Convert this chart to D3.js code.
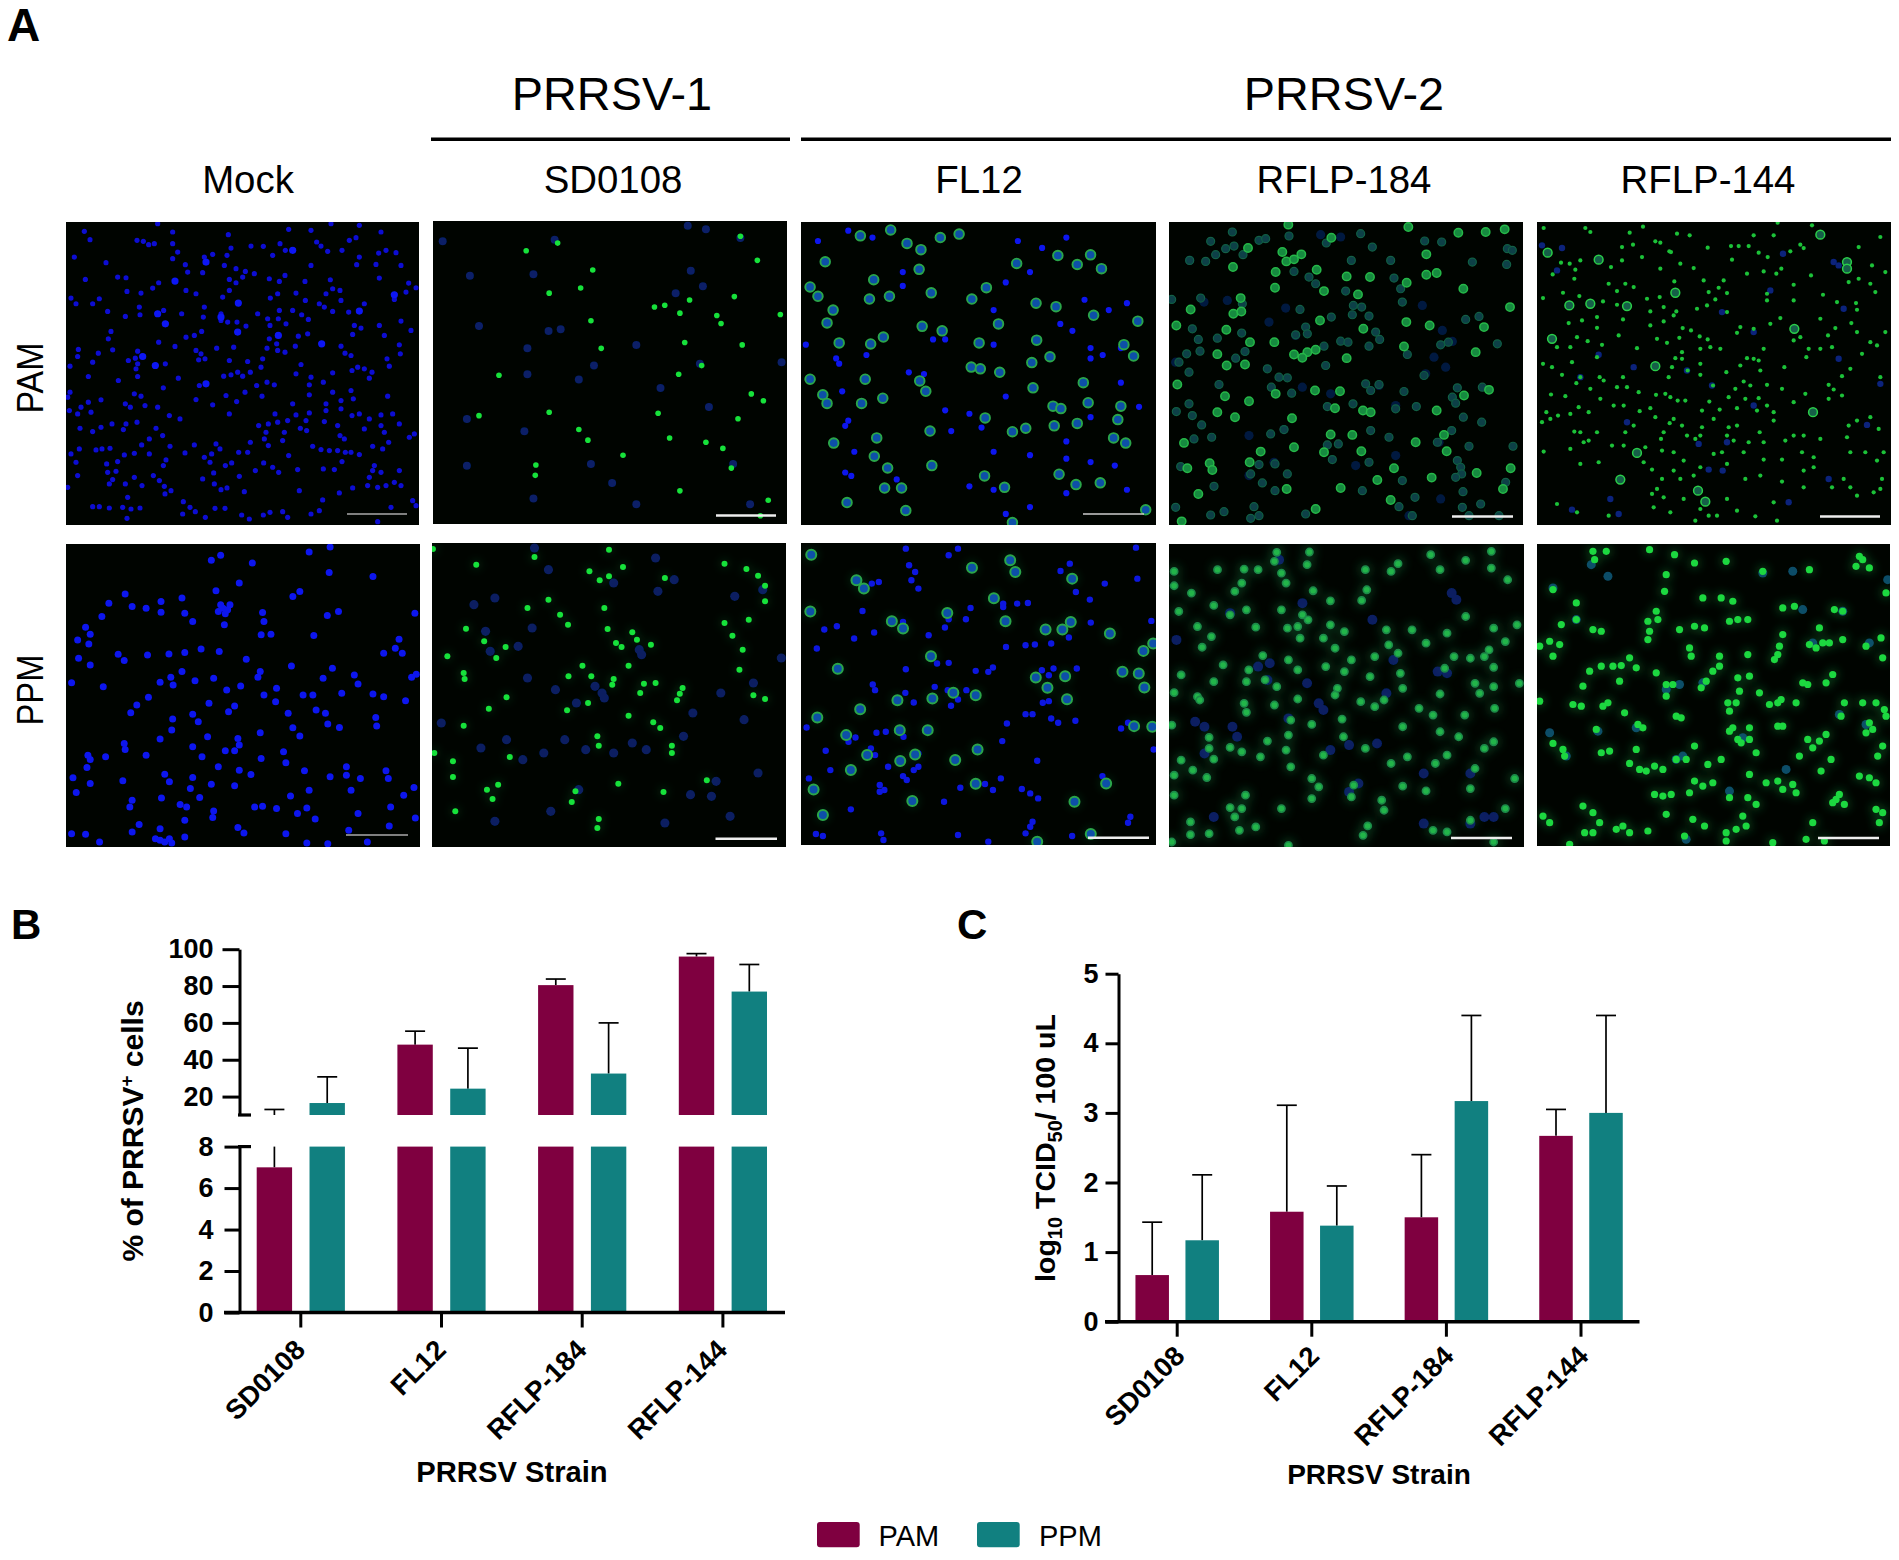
<!DOCTYPE html>
<html><head><meta charset="utf-8">
<script src="https://cdn.jsdelivr.net/npm/d3@7"></script>
<style>
html,body{margin:0;padding:0;background:#fff}
svg{display:block}
text{font-family:"Liberation Sans",Arial,sans-serif;fill:#000}
.b{font-weight:700}
.axis text{font-weight:700;font-size:27px;font-family:"Liberation Sans",Arial,sans-serif}
.axis path,.axis line{stroke:#000;stroke-width:3px}
</style></head><body>
<svg id="c" width="1899" height="1560" viewBox="0 0 1899 1560"></svg>
<script>
// ---------- chart data ----------
const strains=["SD0108","FL12","RFLP-184","RFLP-144"];
const seriesNames=["PAM","PPM"];
const pctPAM=[7,48.2,80.5,96];
const pctPAMTop=[13,55.5,83.8,97.6];
const pctPPM=[16.5,24.3,32.5,77];
const pctPPMTop=[30.7,46.3,60,91.7];
const tcidPAM=[0.67,1.58,1.5,2.67];
const tcidPAMTop=[1.43,3.11,2.4,3.05];
const tcidPPM=[1.17,1.38,3.17,3.0];
const tcidPPMTop=[2.11,1.95,4.4,4.4];
const pctTicksUpper=[20,40,60,80,100];
const pctTicksLower=[0,2,4,6,8];
const tcidTicks=[0,1,2,3,4,5];
const colPAM="#7f0040", colPPM="#118080";

// ---------- micrograph cells (crop reading units) ----------
const mockPPMBlue=[[140,163],[350,205],[335,153],[345,47],[325,62],[413,70],[535,37],[580,22],[672,110],[578,98],[500,170],[515,155],[385,130],[262,175],[217,185],[217,217],[155,200],[185,205],[105,190],[90,230],[55,262],[65,283],[38,300],[62,312],[268,220],[285,245],[353,255],[435,218],[438,245],[574,227],[598,215],[545,287],[432,285],[453,283],[762,220],[728,298],[720,325],[695,340],[735,340],[188,345],[138,362],[125,343],[303,327],[342,335],[268,338],[234,342],[400,358],[65,375],[40,355],[585,385],[565,415],[640,432],[632,405],[765,403],[755,412],[262,395],[238,412],[290,422],[330,415],[430,395],[425,412],[497,378],[215,427],[243,435],[93,440],[25,428],[465,445],[388,438],[358,450],[438,465],[463,485],[522,465],[543,465],[605,460],[672,462],[695,470],[742,482],[190,472],[165,495],[152,518],[375,498],[362,515],[320,490],[285,523],[297,545],[242,537],[490,520],[550,510],[570,520],[678,532],[680,558],[575,552],[600,562],[515,588],[500,563],[430,578],[240,570],[215,597],[317,590],[382,595],[385,615],[138,610],[140,628],[285,620],[355,632],[375,632],[60,645],[65,658],[98,650],[185,645],[305,650],[432,655],[480,635],[485,668],[525,692],[615,680],[615,705],[645,715],[385,690],[410,703],[340,680],[58,682],[225,702],[235,725],[28,713],[65,730],[135,722],[285,712],[325,732],[375,737],[535,750],[625,750],[760,742],[738,765],[580,710],[700,692],[705,715],[35,757],[280,745],[218,773],[155,780],[150,800],[258,793],[272,800],[300,772],[330,812],[328,832],[418,800],[435,798],[465,805],[530,803],[510,820],[495,767],[548,836],[170,853],[268,840],[382,862],[707,857],[763,833],[640,820],[710,800],[215,865],[225,905],[205,895],[240,908],[268,890],[155,875],[395,878],[485,880],[25,880],[55,882],[85,905],[530,908],[575,910],[620,870],[660,905],[345,195],[360,210],[340,215],[365,195],[355,222],[215,900],[235,895]];
const sdPPMGreen=[[802,28],[895,75],[1020,52],[1180,30],[1138,95],[1160,122],[1210,82],[1300,115],[1180,110],[1170,205],[1075,225],[1092,255],[1177,268],[1230,278],[1195,310],[1207,322],[1270,315],[1240,300],[1123,378],[1222,378],[1190,418],[1187,435],[1142,410],[1255,432],[1280,430],[1247,460],[1338,445],[1332,462],[1326,482],[1135,490],[1090,512],[1222,528],[922,507],[960,473],[868,400],[870,418],[833,350],[873,267],[912,305],[958,322],[938,355],[1093,410],[868,558],[1155,590],[1158,618],[1275,548],[1290,565],[1315,618],[1315,640],[967,652],[805,640],[845,665],[1428,250],[1480,240],[1515,138],[1515,185],[1460,390],[1490,467],[1515,478],[1467,330],[1445,288],[1428,72],[1500,108],[1475,88],[930,778],[1100,787],[1390,722],[1297,757],[918,750],[850,815],[1158,838],[1005,205],[1050,180],[845,712],[1200,732],[942,735],[1108,755],[1155,865]];
const sdPPMBlue=[[935,175],[1015,265],[915,275],[985,320],[925,335],[1005,415],[1065,450],[1165,460],[1170,475],[1150,440],[1110,490],[1245,330],[1250,345],[1320,120],[1190,130],[1285,155],[1450,170],[1510,150],[1420,460],[1490,430],[820,550],[905,625],[1040,640],[995,660],[1130,630],[1190,640],[1355,765],[1410,725],[1115,750],[1360,520],[1500,700],[890,195],[1020,25],[1050,90],[1280,55],[1400,770],[1470,540],[1440,830],[1300,850],[1055,815],[935,845],[960,600],[1085,600],[1260,630],[1340,590],[1550,355],[1230,610]];
const flPPMRing=[[35,43],[132,120],[148,145],[380,82],[462,60],[473,95],[595,115],[427,174],[327,218],[33,214],[208,243],[232,265],[452,243],[538,268],[574,268],[592,245],[676,280],[292,348],[92,386],[748,332],[769,310],[580,408],[517,412],[703,395],[738,400],[750,442],[542,443],[584,477],[388,465],[295,475],[220,480],[140,507],[48,532],[340,458],[728,558],[767,560],[225,570],[110,585],[285,570],[392,628],[155,645],[258,643],[226,663],[344,660],[120,690],[388,731],[668,730],[40,748],[252,783],[600,785],[60,825],[635,882],[520,905]];
const flPPMBlue=[[238,25],[330,45],[350,25],[732,22],[258,95],[250,120],[180,125],[165,130],[265,145],[245,75],[570,92],[590,70],[665,130],[603,155],[735,115],[633,178],[500,188],[477,190],[447,190],[447,200],[377,203],[145,212],[330,237],[367,237],[232,245],[322,262],[287,285],[765,242],[635,247],[90,258],[63,268],[127,295],[170,277],[588,292],[550,310],[515,313],[495,315],[453,320],[47,325],[305,370],[330,368],[238,387],[425,382],[415,395],[388,392],[605,385],[555,385],[530,390],[545,405],[167,433],[172,450],[300,440],[328,450],[368,450],[237,458],[255,487],[350,478],[335,497],[532,488],[545,483],[25,562],[495,522],[510,522],[550,535],[565,548],[602,542],[455,550],[700,565],[715,548],[175,578],[195,575],[233,590],[130,592],[115,605],[445,603],[66,632],[163,625],[172,645],[265,640],[265,680],[200,680],[255,690],[232,708],[240,720],[76,690],[30,715],[442,715],[182,735],[192,750],[182,755],[355,743],[408,732],[425,750],[487,747],[505,760],[522,775],[660,708],[520,662],[770,628],[120,808],[320,785],[720,830],[715,848],[350,885],[185,880],[190,900],[45,882],[60,888],[505,860],[510,845],[495,880],[595,888],[415,905]];
const r184PPMGreen=[[908,90],[965,88],[995,90],[1035,38],[1030,65],[1045,100],[1055,130],[1105,37],[1100,75],[1113,153],[1150,183],[1228,150],[1217,182],[1295,72],[1225,90],[1280,95],[1385,90],[1440,62],[1365,45],[1495,35],[1495,85],[1530,120],[815,95],[815,138],[852,160],[900,197],[825,215],[865,260],[875,322],[895,290],[1005,347],[990,262],[1045,210],[1090,225],[1102,240],[1080,260],[1085,295],[1058,265],[960,130],[945,155],[970,210],[935,225],[1150,255],[1180,275],[1270,270],[1325,270],[1355,310],[1400,280],[1440,230],[1500,265],[1550,255],[1525,305],[1490,330],[1135,295],[1160,325],[1195,360],[1245,350],[1275,315],[1295,340],[1300,400],[1415,350],[1395,385],[1450,355],[1500,382],[1480,350],[920,375],[975,390],[830,405],[900,425],[970,425],[1010,420],[1035,440],[1060,360],[1080,390],[1140,380],[1180,395],[1235,410],[865,470],[870,480],[815,458],[965,490],[970,517],[1030,495],[1080,477],[1165,445],[1160,465],[1215,485],[1245,500],[1265,480],[1305,445],[1385,462],[1460,430],[1500,440],[1470,460],[1555,430],[1502,505],[1438,525],[1370,525],[1340,505],[1065,540],[1110,553],[1175,537],[1060,585],[890,592],[810,555],[1178,590],[1015,603],[960,635],[935,622],[890,625],[900,657],[830,660],[1000,650],[1055,630],[1135,645],[1225,625],[1065,680],[1280,670],[1375,670],[1315,650],[1400,645],[1305,560],[1385,575],[1425,590],[1480,625],[1500,605],[815,705],[885,712],[855,690],[1110,715],[1125,740],[1200,735],[1195,770],[1305,738],[1355,752],[1260,780],[1450,745],[1545,715],[1460,685],[968,765],[815,765],[1110,775],[1045,805],[960,805],[935,802],[990,860],[945,830],[850,845],[890,880],[850,883],[955,870],[1230,857],[1265,810],[1525,805],[1450,840],[1370,870],[1400,875],[1500,905],[1060,915],[810,905],[1220,885]];
const r184PPMBlue=[[1040,60],[1410,160],[1420,180],[820,300],[935,220],[995,380],[1020,370],[1015,420],[1125,490],[1135,510],[860,545],[880,560],[940,560],[950,590],[1190,755],[1210,730],[1060,535],[1285,360],[1270,460],[1400,400],[1380,395],[1190,615],[1250,610],[880,640],[1450,700],[1350,850],[1480,830],[1500,830],[900,830],[1100,430],[1090,190],[1240,240],[1450,850],[1150,630],[1350,700]];
const r144PPMGreen=[[190,35],[230,35],[195,60],[360,30],[495,70],[435,45],[590,65],[700,95],[840,90],[990,50],[1020,85],[980,80],[1000,60],[70,150],[410,105],[405,155],[380,215],[355,245],[360,275],[355,300],[385,240],[575,175],[610,185],[520,175],[655,240],[760,205],[795,200],[915,210],[940,215],[870,265],[840,315],[860,325],[880,310],[900,310],[940,300],[760,285],[750,320],[1010,320],[1055,295],[1060,355],[1070,160],[30,320],[60,305],[90,315],[70,350],[95,255],[140,190],[140,240],[190,270],[215,275],[450,270],[495,260],[525,265],[600,245],[625,240],[480,325],[485,350],[300,355],[275,378],[250,380],[215,380],[320,385],[180,395],[570,350],[550,395],[530,425],[570,380],[515,445],[410,435],[430,435],[410,470],[380,400],[655,345],[660,410],[625,415],[745,345],[735,360],[820,430],[835,435],[890,430],[910,405],[270,425],[160,440],[130,495],[155,500],[235,490],[220,500],[595,490],[620,490],[600,515],[630,455],[690,460],[745,490],[720,495],[755,480],[800,490],[945,490],[935,530],[1000,490],[1040,490],[1065,510],[1070,530],[1020,550],[1010,580],[1030,570],[325,555],[340,565],[200,570],[285,520],[455,535],[440,530],[610,565],[600,575],[625,600],[660,565],[660,600],[680,640],[635,610],[745,560],[760,560],[835,600],[870,605],[850,625],[890,585],[100,630],[105,650],[70,612],[215,640],[240,635],[320,630],[300,672],[350,695],[330,690],[375,680],[400,690],[495,620],[440,660],[470,660],[535,675],[575,660],[810,650],[875,695],[905,660],[1060,620],[1045,650],[30,485],[495,725],[480,760],[520,740],[550,730],[660,705],[710,730],[745,725],[790,735],[800,760],[760,750],[1020,715],[1040,730],[990,710],[930,765],[920,780],[945,795],[910,790],[1040,810],[1060,820],[1050,850],[40,830],[60,850],[425,765],[375,765],[400,770],[600,775],[655,775],[680,795],[160,800],[190,820],[165,880],[190,880],[210,850],[280,860],[260,870],[300,880],[355,875],[410,825],[490,840],[525,860],[640,830],[650,860],[620,870],[590,880],[590,905],[730,910],[830,900],[850,850],[885,905],[465,890],[120,915]];
const r144PPMBlue=[[70,145],[140,240],[185,75],[235,110],[410,450],[450,435],[520,430],[640,595],[440,660],[460,650],[205,575],[320,565],[770,690],[600,755],[940,215],[1010,555],[1020,310],[850,310],[930,525],[60,580],[110,650],[470,900],[700,100],[790,95],[820,210],[1075,120]];
const mockPAMBlue=[[275,5],[320,30],[320,65],[335,90],[320,110],[213,55],[232,58],[248,68],[265,65],[55,28],[72,53],[25,105],[120,122],[58,172],[155,165],[180,167],[183,208],[225,213],[260,198],[278,182],[327,177],[360,205],[390,215],[365,150],[410,152],[358,128],[420,120],[440,97],[415,105],[487,38],[495,78],[483,100],[475,130],[510,140],[538,148],[565,155],[490,172],[510,182],[530,165],[490,205],[470,225],[517,243],[555,72],[592,73],[620,100],[642,65],[680,85],[658,85],[735,130],[717,178],[610,170],[640,178],[657,160],[635,215],[613,228],[690,213],[718,235],[760,245],[775,255],[800,268],[825,235],[822,205],[800,200],[780,215],[793,173],[848,270],[880,267],[895,245],[985,218],[985,232],[1020,210],[1050,197],[1028,183],[872,128],[880,105],[938,93],[960,85],[990,92],[850,55],[870,47],[945,30],[880,10],[795,5],[735,25],[668,22],[752,60],[765,72],[785,88],[828,85],[930,127],[1005,130],[940,168],[30,245],[15,228],[80,245],[100,230],[125,268],[220,255],[222,278],[178,283],[275,275],[293,265],[300,305],[347,275],[415,255],[412,285],[465,275],[465,295],[485,300],[515,330],[540,312],[513,300],[575,275],[605,290],[612,310],[640,265],[637,290],[660,305],[680,265],[707,278],[727,292],[637,340],[610,350],[632,365],[635,385],[657,390],[697,342],[725,335],[688,372],[767,365],[825,372],[837,393],[865,310],[885,318],[860,337],[940,310],[955,340],[1005,297],[1035,325],[1000,368],[135,328],[127,350],[140,383],[37,382],[35,403],[97,393],[80,420],[12,432],[278,360],[360,345],[385,340],[407,328],[327,373],[390,385],[405,395],[398,413],[417,410],[452,378],[503,375],[490,415],[545,418],[590,410],[603,378],[585,435],[215,387],[230,403],[208,408],[187,415],[215,425],[268,430],[298,425],[210,440],[215,463],[157,475],[67,463],[337,468],[292,497],[420,485],[400,490],[473,462],[495,458],[515,450],[530,462],[553,450],[572,490],[603,480],[625,488],[705,427],[690,455],[735,465],[730,488],[772,480],[800,452],[858,445],[875,435],[895,440],[918,450],[910,468],[855,400],[963,410],[970,432],[1003,395],[12,510],[5,525],[205,515],[225,522],[178,545],[193,555],[237,550],[275,555],[45,555],[67,540],[105,533],[35,575],[75,570],[10,565],[390,532],[440,548],[480,520],[512,538],[537,510],[588,522],[680,545],[490,575],[730,518],[800,510],[855,505],[825,535],[780,545],[780,565],[825,560],[862,530],[965,522],[858,580],[880,575],[945,578],[980,575],[310,580],[342,590],[180,605],[172,622],[138,605],[213,600],[105,615],[80,628],[42,618],[270,618],[290,640],[250,650],[227,668],[578,610],[607,605],[627,575],[635,600],[665,595],[690,578],[730,572],[720,595],[655,630],[600,630],[595,650],[703,618],[722,625],[775,598],[815,610],[822,640],[835,650],[910,590],[895,620],[945,610],[955,630],[1000,605],[1045,635],[1030,645],[90,683],[108,680],[132,678],[40,680],[15,695],[175,698],[205,693],[250,695],[312,672],[385,668],[357,692],[450,665],[462,680],[437,695],[415,705],[432,720],[518,690],[545,690],[553,660],[607,670],[650,655],[668,700],[740,672],[765,682],[790,685],[815,685],[838,690],[855,690],[880,697],[920,672],[950,680],[968,660],[30,720],[122,725],[155,718],[300,713],[292,730],[35,760],[125,750],[150,747],[140,772],[130,785],[178,785],[205,765],[228,790],[262,760],[280,775],[295,792],[297,815],[315,805],[478,730],[497,722],[443,752],[410,770],[445,785],[465,802],[483,797],[520,762],[568,745],[593,722],[620,735],[638,750],[695,742],[772,740],[805,742],[828,718],[925,730],[945,750],[920,745],[1000,745],[910,765],[905,790],[935,795],[960,790],[985,780],[1005,790],[860,797],[700,805],[535,808],[820,812],[5,795],[185,825],[80,853],[100,853],[130,857],[170,855],[195,860],[222,857],[183,888],[352,838],[372,855],[388,868],[350,875],[447,858],[477,858],[418,885],[527,878],[550,890],[592,878],[612,870],[650,868],[665,885],[735,875],[760,865],[770,833],[975,855],[1040,835],[1050,850],[935,898]];
const mockPAMBright=[[680,85],[767,365],[420,120],[327,177],[517,243],[465,285],[515,330],[637,340],[230,403],[268,430],[420,485],[880,267],[298,305],[275,275],[985,218]];
const sdPAMGreen=[[868,727],[920,705],[978,783],[958,835],[906,850],[1222,685],[1250,755],[1138,870],[1212,860],[1080,890],[1097,885],[1122,908],[1183,915],[1190,938],[1288,912],[975,930],[1130,993],[992,1010],[1225,1000],[823,1088],[1158,1060],[1120,1085],[1240,1142],[1260,1162],[906,1195],[1086,1198],[790,1205],[1218,1214],[955,1245],[970,1276],[1105,1270],[1165,1282],[1193,1300],[1028,1320],[884,1348],[1207,1357],[1122,1423],[1268,1450],[1255,1495],[883,1378]];
const sdPAMBlue=[[730,700],[915,695],[1135,655],[1165,665],[1222,690],[775,800],[880,795],[1140,785],[1115,850],[1160,830],[790,945],[905,960],[925,955],[870,1010],[1050,1000],[980,1060],[1155,1055],[870,1085],[955,1100],[1090,1125],[770,1215],[865,1250],[770,1350],[975,1345],[1210,1345],[1010,1400],[880,1445],[1050,1462],[1238,1462],[1290,1050],[1170,1180]];
const flPAMRing=[[1337,833],[1350,860],[1420,685],[1470,668],[1497,707],[1520,725],[1552,690],[1362,760],[1442,812],[1435,868],[1468,860],[1517,782],[1537,850],[1375,900],[1365,937],[1522,947],[1385,995],[1437,998],[1458,978],[1555,960],[1337,1100],[1358,1145],[1365,1170],[1422,1170],[1457,1155],[1428,1100],[1518,1105],[1528,1135],[1376,1285],[1447,1270],[1535,1250],[1443,1323],[1465,1357],[1538,1350],[1460,1415],[1488,1415],[1398,1457],[1495,1480],[1583,680],[1746,742],[1800,740],[1778,768],[1818,780],[1678,765],[1628,835],[1604,868],[1710,880],[1743,890],[1805,915],[1878,932],[1648,940],[1616,995],[1711,987],[1855,1000],[1733,1035],[1703,1052],[1871,1033],[1603,1065],[1618,1070],[1650,1080],[1705,1125],[1788,1110],[1738,1178],[1751,1185],[1796,1168],[1850,1178],[1626,1212],[1693,1242],[1671,1252],[1740,1235],[1778,1228],[1845,1217],[1838,1270],[1858,1285],[1625,1380],[1748,1375],[1658,1413],[1776,1405],[1816,1400],[1891,1478],[1671,1515]];
const flPAMBlue=[[1380,1040],[1400,670],[1440,690],[1350,700],[1490,790],[1490,830],[1560,985],[1540,985],[1330,1000],[1385,1055],[1430,1030],[1390,1135],[1400,1220],[1395,1235],[1560,1190],[1570,1250],[1405,1380],[1395,1370],[1480,1390],[1410,1310],[1525,1085],[1500,1080],[1600,1200],[1620,1240],[1640,900],[1660,820],[1700,790],[1720,720],[1760,690],[1680,700],[1850,1010],[1820,1030],[1770,960],[1750,940],[1790,870],[1830,900],[1860,880],[1800,1010],[1800,1040],[1660,1150],[1600,1410],[1640,1310],[1700,1320],[1760,1330],[1800,1340],[1840,1350],[1760,1280],[1800,1210],[1850,1110],[1880,1180],[1640,1420],[1660,1490],[1700,1470],[1760,1430],[1860,1420],[1640,1000]];
const r184PAMBright=[[718,15],[868,32],[358,8],[487,47],[237,78],[340,90],[352,118],[375,112],[397,97],[192,135],[320,150],[443,143],[533,163],[603,165],[772,158],[803,153],[713,182],[318,197],[465,207],[567,217],[883,200],[215,228],[65,262],[193,275],[217,268],[453,295],[22,310],[172,323],[583,320],[782,310],[945,315],[712,300],[243,360],[316,360],[375,397],[415,390],[440,383],[400,407],[533,408],[705,373],[920,390],[145,396],[173,430],[228,427],[25,487],[168,522],[240,537],[320,515],[438,505],[513,507],[885,520],[960,503],[498,558],[582,565],[605,570],[145,570],[198,585],[369,588],[803,565],[550,638],[485,637],[825,638],[45,662],[375,675],[465,690],[577,687],[833,687],[740,660],[275,688],[242,720],[122,723],[130,743],[55,738],[675,738],[923,752],[788,766],[625,773],[515,797],[1002,800],[88,815],[353,800],[665,833],[440,860],[38,897],[1025,738],[1023,255],[772,97],[950,30],[1007,22]];
const r184PAMDim=[[190,30],[125,58],[170,80],[195,72],[270,55],[290,50],[360,42],[472,63],[575,35],[610,75],[767,57],[818,60],[1015,80],[62,115],[110,118],[140,98],[222,98],[547,115],[665,115],[1013,127],[910,120],[375,148],[420,165],[440,185],[675,168],[695,200],[530,207],[95,228],[8,232],[700,240],[553,250],[578,255],[600,282],[550,278],[487,285],[393,262],[220,245],[930,283],[890,292],[1030,85],[70,320],[88,352],[145,348],[218,333],[410,315],[415,335],[380,338],[620,330],[632,352],[515,357],[537,360],[600,372],[815,368],[838,360],[985,365],[53,395],[93,387],[228,388],[200,408],[465,372],[715,397],[60,450],[30,420],[295,440],[330,465],[355,467],[470,430],[590,485],[605,505],[705,508],[630,487],[765,460],[865,497],[940,495],[850,525],[307,495],[368,513],[150,487],[60,545],[22,568],[70,580],[475,553],[552,545],[742,553],[860,543],[883,585],[938,600],[680,560],[98,608],[128,645],[75,650],[305,635],[345,622],[605,625],[660,645],[848,625],[475,668],[508,665],[805,660],[900,672],[490,712],[865,715],[875,735],[1032,672],[318,725],[270,727],[245,755],[35,733],[355,755],[600,720],[878,755],[860,765],[280,782],[318,805],[135,792],[882,808],[738,825],[935,845],[255,853],[270,880],[245,888],[20,855],[410,875],[125,878],[165,868],[580,805],[690,853],[730,880],[880,855],[900,880],[990,880],[1010,780],[700,775]];
const r184PAMBlue=[[62,115],[455,38],[515,45],[350,258],[300,300],[380,340],[820,325],[850,358],[770,455],[830,435],[400,495],[485,515],[680,550],[345,622],[240,640],[810,660],[680,700],[315,720],[240,760],[560,730],[815,830],[720,880],[175,235],[105,240],[20,420],[630,490],[795,405],[760,250]];
const r144PAMGreen=[[20,18],[145,18],[160,30],[278,32],[318,14],[355,58],[370,62],[420,35],[458,40],[402,90],[430,125],[470,138],[512,77],[585,113],[582,72],[605,72],[635,72],[650,40],[665,92],[692,105],[710,40],[722,2],[825,10],[790,68],[760,88],[800,78],[965,75],[1030,45],[1005,130],[1045,150],[72,122],[98,125],[115,143],[130,115],[222,135],[255,75],[255,115],[288,68],[315,105],[370,140],[397,88],[47,157],[112,170],[215,185],[240,207],[290,195],[265,185],[330,230],[368,225],[412,178],[418,268],[410,280],[380,255],[500,175],[515,210],[570,213],[560,175],[545,197],[510,250],[480,260],[535,232],[570,270],[630,155],[680,148],[718,155],[733,140],[770,188],[822,160],[858,218],[690,215],[690,235],[770,235],[850,290],[900,240],[957,243],[960,263],[1015,210],[935,180],[965,170],[1000,185],[18,228],[78,212],[127,222],[198,238],[240,248],[340,268],[380,298],[258,292],[180,285],[135,295],[95,303],[180,317],[245,340],[300,378],[340,310],[390,362],[427,347],[437,318],[462,325],[488,343],[512,352],[600,332],[610,315],[650,320],[700,305],[730,288],[770,355],[790,345],[873,340],[895,318],[943,303],[960,330],[1045,330],[1020,370],[120,345],[152,357],[100,375],[195,368],[60,375],[360,350],[435,390],[415,408],[435,410],[490,380],[520,375],[550,380],[630,408],[650,410],[665,415],[680,380],[815,380],[808,405],[850,380],[885,375],[975,395],[1000,360],[18,425],[45,435],[105,420],[180,405],[130,465],[75,458],[188,465],[200,475],[258,465],[405,435],[395,465],[452,445],[490,425],[490,458],[528,490],[568,450],[610,430],[620,478],[640,490],[670,445],[690,488],[742,435],[875,488],[890,502],[805,515],[915,462],[940,440],[1030,465],[118,483],[160,500],[240,495],[270,495],[305,510],[357,518],[385,515],[400,525],[422,535],[445,535],[595,500],[575,525],[625,530],[665,528],[735,500],[690,550],[770,540],[875,530],[915,520],[42,517],[85,522],[125,555],[190,530],[230,550],[308,567],[340,558],[548,562],[495,565],[517,538],[600,558],[660,565],[710,570],[28,570],[63,580],[100,575],[155,570],[260,550],[355,585],[398,603],[410,590],[435,610],[495,615],[530,590],[600,610],[575,615],[668,630],[710,595],[770,640],[800,640],[15,600],[40,590],[130,630],[180,630],[155,655],[112,628],[265,630],[290,610],[380,630],[372,650],[450,640],[490,640],[570,640],[590,655],[635,660],[680,660],[745,655],[850,650],[935,610],[1000,585],[960,595],[930,645],[1025,620],[20,688],[100,680],[140,660],[225,670],[260,670],[325,675],[410,690],[375,685],[440,715],[475,650],[530,695],[570,725],[620,690],[680,712],[735,712],[795,690],[830,705],[940,690],[1020,715],[1040,690],[985,690],[185,720],[130,725],[345,742],[410,745],[375,770],[320,720],[430,770],[470,760],[490,735],[555,690],[625,770],[670,760],[735,778],[800,745],[830,735],[920,770],[885,795],[1035,770],[1030,800],[360,800],[380,825],[345,815],[60,845],[490,860],[570,830],[600,865],[655,882],[440,830],[710,840],[800,795],[1010,810],[940,795],[960,820],[515,880],[540,880],[475,895],[350,855],[215,880],[120,870],[400,870],[720,895]];
const r144PAMRing=[[32,92],[185,113],[850,38],[930,120],[930,140],[160,245],[270,252],[772,320],[828,570],[355,432],[300,692],[250,772],[483,805],[505,838],[97,250],[45,350],[415,212]];
const r144PAMBlue=[[60,145],[700,205],[555,270],[650,330],[920,260],[185,398],[290,435],[450,445],[525,490],[650,550],[485,665],[570,660],[515,742],[557,745],[755,840],[875,770],[990,608],[1030,485],[890,120],[905,130],[15,70],[75,78],[738,95],[905,410],[245,875],[105,862],[220,830],[270,600],[130,465]];

// ---------- drawing ----------
const svg=d3.select("#c");
const defs=svg.append("defs");
defs.append("filter").attr("id","soft").append("feGaussianBlur").attr("stdDeviation",0.6);
defs.append("filter").attr("id","haze").attr("x","-20%").attr("y","-20%").attr("width","140%").attr("height","140%").append("feGaussianBlur").attr("stdDeviation",5);

function txt(x,y,s,size,opt={}){
  return svg.append("text").attr("x",x).attr("y",y).attr("font-size",size)
    .attr("text-anchor",opt.anchor||"middle").attr("class",opt.bold?"b":null).text(s);
}
txt(7,41,"A",46,{anchor:"start",bold:true});
txt(11,939,"B",42,{anchor:"start",bold:true});
txt(957,939,"C",42,{anchor:"start",bold:true});

txt(612,110,"PRRSV-1",46.8);
txt(1344,110,"PRRSV-2",46.8);
svg.append("rect").attr("x",431).attr("y",137.5).attr("width",359).attr("height",3.5);
svg.append("rect").attr("x",801).attr("y",137.5).attr("width",1090).attr("height",3.5);
const colHeads=["Mock","SD0108","FL12","RFLP-184","RFLP-144"], colCentres=[248,613,979,1344,1708];
colHeads.forEach((h,i)=>txt(colCentres[i],192.5,h,38.4));

function rotText(x,y,s,size,len){
  svg.append("text").attr("transform",`translate(${x},${y}) rotate(-90)`).attr("font-size",size)
    .attr("text-anchor","middle").attr("textLength",len).attr("lengthAdjust","spacingAndGlyphs").text(s);
}
rotText(43,378,"PAM",36,71);
rotText(43,690,"PPM",36,71);

const panels=[
 {box:[66,222,419,525],dom:[0,0,1059,908],layers:[[mockPAMBlue,2.6,"#0a0cd2"],[mockPAMBright,3.6,"#0a18f5"]],bar:[347,407,514,"#aaa",1.6]},
 {box:[433,221,787,524],dom:[714,641,1299,1519],layers:[[sdPAMBlue,4,"#0b2a8a",.75],[sdPAMGreen,2.8,"#19e23a"]],bar:[716,776,515.5,"#eee",2.5]},
 {box:[801,222,1156,525],dom:[1322,645,1908,1522],layers:[[flPAMBlue,3.1,"#0a14ee"]],rings:[[flPAMRing,4.8,"#0c4fa8","#2aa64a",1.9]],bar:[1083,1144,514,"#ccc",1.6]},
 {box:[1169,222,1523,525],dom:[0,0,1062,908],layers:[[r184PAMBlue,4.6,"#0b2a6a",.6]],rings:[[r184PAMDim,4,"#0e3f46","#125f44",1.2],[r184PAMBright,4.2,"#188a3f","#25b848",1.5]],bar:[1452,1513,516.5,"#eee",2.5]},
 {box:[1537,222,1891,525],dom:[0,0,1062,908],layers:[[r144PAMBlue,3.2,"#0b2a9a",.8],[r144PAMGreen,2.1,"#1bc238"]],rings:[[r144PAMRing,4.4,"#145f4a","#2bcf4a",1.5]],bar:[1820,1880,516.5,"#eee",2.5]},
 {box:[66,544,420,847],dom:[13,13,773,920],layers:[[mockPPMBlue,3.5,"#0a14ee"]],bar:[346,408,835,"#aaa",1.6]},
 {box:[432,543,786,847],dom:[800,10,1560,922],layers:[[sdPPMBlue,4.6,"#0b2a8a",.7],[sdPPMGreen,3,"#19e23a"]],haze:[sdPPMGreen,5,"#14803a",.25],bar:[715.5,777,838.7,"#eee",2.5]},
 {box:[801,543,1156,845],dom:[13,8,775,915],layers:[[flPPMBlue,3.2,"#0a18e0"]],rings:[[flPPMRing,5,"#0c4fa8","#2aa64a",2]],haze:[flPPMRing,7,"#0f6a30",.3],bar:[1088,1149,837.7,"#eee",2.5]},
 {box:[1169,544,1524,847],dom:[804,13,1565,920],layers:[[r184PPMBlue,5,"#0b2a8a",.7]],rings:[[r184PPMGreen,3.6,"#23b54a","#1c8a48",1.6]],haze:[r184PPMGreen,7,"#12703a",.42],bar:[1451,1512,838,"#eee",2.5]},
 {box:[1537,544,1890,846],dom:[22,13,1082,920],layers:[[r144PPMBlue,4.5,"#0f5a7a",.85],[r144PPMGreen,3.6,"#1fd83f"]],haze:[r144PPMGreen,6,"#12883a",.4],bar:[1818,1879,838,"#eee",2.5]}
];
panels.forEach((p,i)=>{
  const [x0,y0,x1,y1]=p.box, [dx0,dy0,dx1,dy1]=p.dom;
  const sx=d3.scaleLinear().domain([dx0,dx1]).range([x0,x1]);
  const sy=d3.scaleLinear().domain([dy0,dy1]).range([y0,y1]);
  defs.append("clipPath").attr("id","cp"+i).append("rect").attr("x",x0).attr("y",y0).attr("width",x1-x0).attr("height",y1-y0);
  svg.append("rect").attr("x",x0).attr("y",y0).attr("width",x1-x0).attr("height",y1-y0).attr("fill","#000400");
  const clip=svg.append("g").attr("clip-path",`url(#cp${i})`);
  if(p.haze){
    const [arr,r,fill,op]=p.haze;
    clip.append("g").attr("filter","url(#haze)").attr("opacity",op).selectAll("circle").data(arr).join("circle")
      .attr("cx",d=>sx(d[0])).attr("cy",d=>sy(d[1])).attr("r",r).attr("fill",fill);
  }
  const g=clip.append("g").attr("filter","url(#soft)");
  (p.layers||[]).forEach(([arr,r,fill,op])=>{
    g.append("g").attr("opacity",op===undefined?1:op).selectAll("circle").data(arr).join("circle")
      .attr("cx",d=>sx(d[0])).attr("cy",d=>sy(d[1])).attr("r",r).attr("fill",fill);
  });
  (p.rings||[]).forEach(([arr,r,fill,stroke,sw])=>{
    g.append("g").selectAll("circle").data(arr).join("circle")
      .attr("cx",d=>sx(d[0])).attr("cy",d=>sy(d[1])).attr("r",r).attr("fill",fill).attr("stroke",stroke).attr("stroke-width",sw);
  });
  svg.append("line").attr("x1",p.bar[0]).attr("x2",p.bar[1]).attr("y1",p.bar[2]).attr("y2",p.bar[2])
    .attr("stroke",p.bar[3]).attr("stroke-width",p.bar[4]);
});

// ---------- shared bar chart helpers ----------
function groupX(left,step,offsetSpan,padInner){
  const x0=d3.scaleBand().domain(strains).range([left,left+step*strains.length]);
  const x1=d3.scaleBand().domain(seriesNames).range([-offsetSpan,offsetSpan]).paddingInner(padInner);
  return {x0,x1,pos:(s,n)=>x0(s)+x0.bandwidth()/2+x1(n)};
}
function rows(a,b,at,bt){
  const out=[];
  strains.forEach((s,i)=>{out.push({s,n:"PAM",v:a[i],t:at[i]});out.push({s,n:"PPM",v:b[i],t:bt[i]});});
  return out;
}
function xTicks(x0,yAxis,lx,dy){
  const ax=d3.axisBottom(x0).tickSize(15).tickSizeOuter(0).tickFormat(d=>d);
  const g=svg.append("g").attr("class","axis").attr("transform",`translate(0,${yAxis})`).call(ax);
  g.select(".domain").remove();
  g.selectAll("text").attr("text-anchor","end").attr("dy",0).attr("y",0).attr("x",0).style("font-size","27.5px")
    .attr("transform",`translate(${lx},${dy}) rotate(-45)`);
}
function errBars(data,X,bw,y,capW,clipFn){
  data.forEach(d=>{
    const cx=X(d.s,d.n)+bw/2;
    clipFn(d).forEach(seg=>svg.append("line").attr("x1",cx).attr("x2",cx).attr("y1",seg[0]).attr("y2",seg[1]).attr("stroke","#000").attr("stroke-width",1.7));
    svg.append("line").attr("x1",cx-capW/2).attr("x2",cx+capW/2).attr("y1",y(d.t)).attr("y2",y(d.t)).attr("stroke","#000").attr("stroke-width",1.7);
  });
}
const intFmt=d3.format("d");

// ---------- panel B ----------
const bX=groupX(230.45,140.7,44.1,0.33);
const yUp=d3.scaleLinear().domain([10,100]).range([1115,949.2]);
const yLow=d3.scaleLinear().domain([0,8]).range([1312.5,1146.6]);
const bRows=rows(pctPAM,pctPPM,pctPAMTop,pctPPMTop);
const bw=bX.x1.bandwidth();
const colour=d3.scaleOrdinal().domain(seriesNames).range([colPAM,colPPM]);
errBars(bRows,bX.pos,bw,yUp,20,d=>{
  const segs=[];
  if(d.v<8){segs.push([yLow(d.v),yLow(8)]);segs.push([yUp(10),yUp(d.t)]);}
  else segs.push([yUp(d.v),yUp(d.t)]);
  return segs;
});
svg.append("g").selectAll("rect").data(bRows).join("rect")
  .attr("x",d=>bX.pos(d.s,d.n)).attr("width",bw)
  .attr("y",d=>yLow(Math.min(d.v,8))).attr("height",d=>yLow(0)-yLow(Math.min(d.v,8)))
  .attr("fill",d=>colour(d.n));
svg.append("g").selectAll("rect").data(bRows.filter(d=>d.v>10)).join("rect")
  .attr("x",d=>bX.pos(d.s,d.n)).attr("width",bw)
  .attr("y",d=>yUp(d.v)).attr("height",d=>yUp(10)-yUp(d.v))
  .attr("fill",d=>colour(d.n));
svg.append("g").attr("class","axis").attr("transform","translate(239.5,0)")
  .call(d3.axisLeft(yUp).tickValues(pctTicksUpper).tickSize(17).tickSizeOuter(0).tickPadding(9).tickFormat(intFmt));
svg.append("g").attr("class","axis").attr("transform","translate(239.5,0)")
  .call(d3.axisLeft(yLow).tickValues(pctTicksLower).tickSize(15).tickSizeOuter(0).tickPadding(11).tickFormat(intFmt));
[yUp(10),yLow(8)].forEach(y=>svg.append("line").attr("x1",238).attr("x2",251).attr("y1",y).attr("y2",y).attr("stroke","#000").attr("stroke-width",3.2));
svg.append("line").attr("x1",224).attr("x2",785).attr("y1",yLow(0)).attr("y2",yLow(0)).attr("stroke","#000").attr("stroke-width",3.6);
xTicks(bX.x0,1312.5,6,39);
const tb=svg.append("text").attr("transform","translate(143,1131) rotate(-90)").attr("font-size",30).attr("font-weight",700).attr("text-anchor","middle");
tb.append("tspan").text("% of PRRSV");
tb.append("tspan").attr("font-size",19).attr("dy",-10).text("+");
tb.append("tspan").attr("dy",10).text(" cells");
txt(512,1481.5,"PRRSV Strain",29.2,{bold:true});

// ---------- panel C ----------
const cX=groupX(1109.9,134.6,41.75,0.33);
const yC=d3.scaleLinear().domain([0,5]).range([1321.7,973.7]);
const cRows=rows(tcidPAM,tcidPPM,tcidPAMTop,tcidPPMTop);
const cbw=cX.x1.bandwidth();
errBars(cRows,cX.pos,cbw,yC,20,d=>[[yC(d.v),yC(d.t)]]);
svg.append("g").selectAll("rect").data(cRows).join("rect")
  .attr("x",d=>cX.pos(d.s,d.n)).attr("width",cbw)
  .attr("y",d=>yC(d.v)).attr("height",d=>yC(0)-yC(d.v)).attr("fill",d=>colour(d.n));
svg.append("g").attr("class","axis").attr("transform","translate(1118.5,0)")
  .call(d3.axisLeft(yC).tickValues(tcidTicks).tickSize(13).tickSizeOuter(0).tickPadding(7).tickFormat(intFmt));
svg.append("line").attr("x1",1105).attr("x2",1639.5).attr("y1",yC(0)).attr("y2",yC(0)).attr("stroke","#000").attr("stroke-width",3.6);
xTicks(cX.x0,1321.7,9,36);
const tc=svg.append("text").attr("transform","translate(1055,1148) rotate(-90)").attr("font-size",28.5).attr("font-weight",700).attr("text-anchor","middle");
tc.append("tspan").text("log");
tc.append("tspan").attr("font-size",20).attr("dy",7).text("10");
tc.append("tspan").attr("dy",-7).text(" TCID");
tc.append("tspan").attr("font-size",20).attr("dy",7).text("50");
tc.append("tspan").attr("dy",-7).text("/ 100 uL");
txt(1379,1484,"PRRSV Strain",28,{bold:true});

// ---------- legend ----------
const legendX=[817,977], legendTextX=[878.5,1039];
seriesNames.forEach((n,i)=>{
  svg.append("rect").attr("x",legendX[i]).attr("y",1522).attr("width",42.7).attr("height",25.3).attr("rx",3).attr("fill",colour(n));
  txt(legendTextX[i],1545.5,n,29,{anchor:"start"});
});
</script></body></html>
